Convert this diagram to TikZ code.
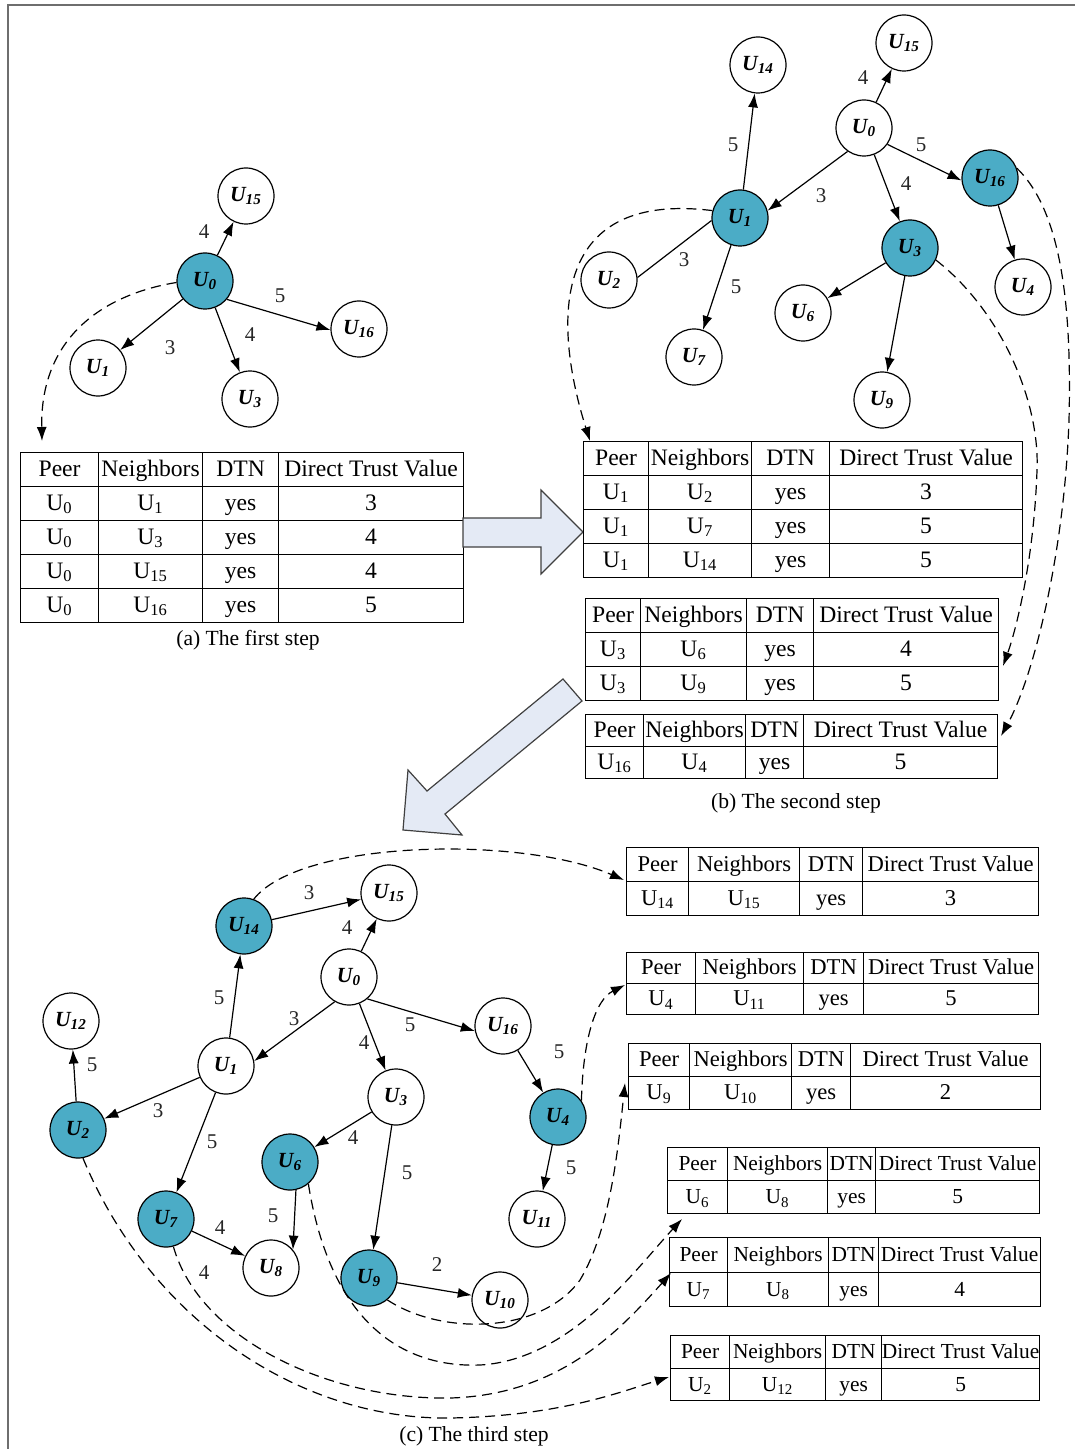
\documentclass[tikz,border=0pt]{standalone}
\usepackage{fontspec}
\setmainfont{Liberation Serif}
\usetikzlibrary{arrows.meta,matrix}
\definecolor{nodeblue}{HTML}{4BACC6}
\definecolor{arrowfill}{HTML}{E4EAF5}
\definecolor{framegray}{HTML}{6E6E6E}
\tikzset{
  cw/.style n args={4}{column 1/.style={nodes={minimum width=#1}},column 2/.style={nodes={minimum width=#2}},column 3/.style={nodes={minimum width=#3}},column 4/.style={nodes={minimum width=#4}}},
  rh/.style={nodes={minimum height=#1}},
  tfont/.style={nodes={font=\fontsize{#1}{12}\selectfont}},
}
\begin{document}
\begin{tikzpicture}[x=0.5pt,y=-0.5pt,
  pn/.style={circle,draw,line width=0.6pt,minimum size=28pt,inner sep=0pt,font=\fontsize{10.8}{12}\selectfont\bfseries\itshape},
  pb/.style={pn,fill=nodeblue},
  ed/.style={-{Latex[length=7pt,width=5pt]},line width=0.6pt},
  pl/.style={line width=0.6pt},
  ln/.style={font=\fontsize{10.5}{12}\selectfont,text=black!85,inner sep=0pt},
  dsh/.style={-{Latex[length=7pt,width=5pt]},line width=0.6pt,dash pattern=on 5pt off 3pt},
  capt/.style={font=\fontsize{10.8}{12}\selectfont,inner sep=0pt},
  tbl/.style={matrix of nodes,anchor=north west,inner sep=0pt,outer sep=0pt,column sep=-0.6pt,row sep=-0.6pt,
    nodes={draw,line width=0.6pt,inner sep=0pt,outer sep=0pt,anchor=center,text height=9.3pt,text depth=2.6pt,font=\fontsize{11.8}{12}\selectfont}},
  barrow/.style={fill=arrowfill,draw=black!75,line width=0.6pt,line join=miter},
]
\useasboundingbox (0,0) rectangle (1075,1449);
% frame
\draw[framegray,line width=1pt] (8,1449) -- (8,5) -- (1075,5);

% ================= (a) =================
\node[pn] (u15a) at (246,196) {U\textsubscript{15}};
\node[pb] (u0a)  at (205,281) {U\textsubscript{0}};
\node[pn] (u16a) at (359,329) {U\textsubscript{16}};
\node[pn] (u1a)  at (98,368)  {U\textsubscript{1}};
\node[pn] (u3a)  at (250,399) {U\textsubscript{3}};
\draw[ed] (u0a) -- (u15a);
\draw[ed] (u0a.-40) -- (u16a.182);
\draw[ed] (u0a) -- (u3a);
\draw[ed] (u0a) -- (u1a);
\node[ln] (la1) at (204,232) {4};
\node[ln] (la2) at (280,296) {5};
\node[ln] (la3) at (250,335) {4};
\node[ln] (la4) at (170,348) {3};

\matrix (ta) at (20,452) [tbl,cw={39pt}{52pt}{38pt}{92.5pt},rh=17pt] {
Peer & Neighbors & DTN & Direct Trust Value \\
U\textsubscript{0} & U\textsubscript{1} & yes & 3 \\
U\textsubscript{0} & U\textsubscript{3} & yes & 4 \\
U\textsubscript{0} & U\textsubscript{15} & yes & 4 \\
U\textsubscript{0} & U\textsubscript{16} & yes & 5 \\
};
\node[capt] (capa) at (248,640) {(a) The first step};
\coordinate (da) at (42,441);
\draw[dsh] (u0a.183) .. controls (100,295) and (40,340) .. (da);

% big right arrow
\draw[barrow] (463,518) -- (541,518) -- (541,490) -- (583,532) -- (541,574) -- (541,547) -- (463,547) -- cycle;

% ================= (b) =================
\node[pn] (u14b) at (758,65)  {U\textsubscript{14}};
\node[pn] (u15b) at (904,43)  {U\textsubscript{15}};
\node[pn] (u0b)  at (864,128) {U\textsubscript{0}};
\node[pb] (u16b) at (990,178) {U\textsubscript{16}};
\node[pb] (u1b)  at (740,218) {U\textsubscript{1}};
\node[pb] (u3b)  at (910,248) {U\textsubscript{3}};
\node[pn] (u2b)  at (609,280) {U\textsubscript{2}};
\node[pn] (u4b)  at (1023,287) {U\textsubscript{4}};
\node[pn] (u6b)  at (803,313) {U\textsubscript{6}};
\node[pn] (u7b)  at (694,357) {U\textsubscript{7}};
\node[pn] (u9b)  at (882,400) {U\textsubscript{9}};
\draw[ed] (u1b) -- (u14b);
\draw[ed] (u0b) -- (u15b);
\draw[ed] (u0b.-35) -- (u16b.185);
\draw[ed] (u0b.-125) -- (u1b.15);
\draw[ed] (u0b) -- (u3b);
\draw[pl] (u2b.5) -- (u1b.185);
\draw[ed] (u1b) -- (u7b);
\draw[ed] (u3b) -- (u6b);
\draw[ed] (u3b) -- (u9b);
\draw[ed] (u16b) -- (u4b);
\node[ln] (lb1) at (733,145) {5};
\node[ln] (lb2) at (863,78)  {4};
\node[ln] (lb3) at (921,145) {5};
\node[ln] (lb4) at (821,196) {3};
\node[ln] (lb5) at (906,184) {4};
\node[ln] (lb6) at (684,260) {3};
\node[ln] (lb7) at (736,287) {5};

\matrix (tb1) at (583,441) [tbl,cw={32.5pt}{51.5pt}{39pt}{96.5pt},rh=17pt] {
Peer & Neighbors & DTN & Direct Trust Value \\
U\textsubscript{1} & U\textsubscript{2} & yes & 3 \\
U\textsubscript{1} & U\textsubscript{7} & yes & 5 \\
U\textsubscript{1} & U\textsubscript{14} & yes & 5 \\
};
\matrix (tb2) at (585,598) [tbl,cw={27.5pt}{53pt}{33.5pt}{92.5pt},rh=17pt] {
Peer & Neighbors & DTN & Direct Trust Value \\
U\textsubscript{3} & U\textsubscript{6} & yes & 4 \\
U\textsubscript{3} & U\textsubscript{9} & yes & 5 \\
};
\matrix (tb3) at (585,714) [tbl,cw={29pt}{51pt}{29pt}{97pt},rh=16pt] {
Peer & Neighbors & DTN & Direct Trust Value \\
U\textsubscript{16} & U\textsubscript{4} & yes & 5 \\
};
\node[capt] (capb) at (796,803) {(b) The second step};

\coordinate (db1) at (590,441);
\coordinate (db2) at (1003,666);
\coordinate (db3) at (1001,736);
\draw[dsh] (u1b.165) .. controls (545,190) and (555,330) .. (db1);
\draw[dsh] (u3b.-25) .. controls (1000,310) and (1040,400) .. (1037,470) .. controls (1034,560) and (1016,630) .. (db2);
\draw[dsh] (u16b.20) .. controls (1060,210) and (1072,300) .. (1069,420) .. controls (1064,560) and (1032,680) .. (db3);

% diagonal arrow
\draw[barrow] (563,679) -- (582,701) -- (445,814) -- (462,835) -- (403,830) -- (408,770) -- (427,791) -- cycle;

% ================= (c) =================
\node[pb] (u14c) at (244,926)  {U\textsubscript{14}};
\node[pn] (u15c) at (389,893)  {U\textsubscript{15}};
\node[pn] (u0c)  at (349,977)  {U\textsubscript{0}};
\node[pn] (u12c) at (71,1021)  {U\textsubscript{12}};
\node[pn] (u1c)  at (226,1066) {U\textsubscript{1}};
\node[pn] (u16c) at (503,1026) {U\textsubscript{16}};
\node[pb] (u2c)  at (78,1130)  {U\textsubscript{2}};
\node[pn] (u3c)  at (396,1097) {U\textsubscript{3}};
\node[pb] (u4c)  at (558,1117) {U\textsubscript{4}};
\node[pb] (u6c)  at (290,1162) {U\textsubscript{6}};
\node[pb] (u7c)  at (166,1219) {U\textsubscript{7}};
\node[pn] (u11c) at (537,1219) {U\textsubscript{11}};
\node[pn] (u8c)  at (271,1268) {U\textsubscript{8}};
\node[pb] (u9c)  at (369,1278) {U\textsubscript{9}};
\node[pn] (u10c) at (500,1300) {U\textsubscript{10}};
\draw[ed] (u14c) -- (u15c);
\draw[ed] (u0c) -- (u15c);
\draw[ed] (u1c) -- (u14c);
\draw[ed] (u0c.-120) -- (u1c.10);
\draw[ed] (u0c.-50) -- (u16c.190);
\draw[ed] (u0c) -- (u3c);
\draw[ed] (u16c) -- (u4c);
\draw[ed] (u2c) -- (u12c);
\draw[ed] (u1c) -- (u2c);
\draw[ed] (u1c) -- (u7c);
\draw[ed] (u3c) -- (u6c);
\draw[ed] (u3c) -- (u9c);
\draw[ed] (u4c) -- (u11c);
\draw[ed] (u6c.-78) -- (u8c.40);
\draw[ed] (u7c) -- (u8c);
\draw[ed] (u9c) -- (u10c);
\node[ln] (lc1)  at (309,893)  {3};
\node[ln] (lc2)  at (347,928)  {4};
\node[ln] (lc3)  at (219,998)  {5};
\node[ln] (lc4)  at (294,1019) {3};
\node[ln] (lc5)  at (410,1025) {5};
\node[ln] (lc6)  at (364,1043) {4};
\node[ln] (lc7)  at (559,1052) {5};
\node[ln] (lc8)  at (92,1065)  {5};
\node[ln] (lc9)  at (158,1111) {3};
\node[ln] (lc10) at (212,1142) {5};
\node[ln] (lc11) at (353,1138) {4};
\node[ln] (lc12) at (407,1173) {5};
\node[ln] (lc13) at (571,1168) {5};
\node[ln] (lc14) at (273,1216) {5};
\node[ln] (lc15) at (220,1228) {4};
\node[ln] (lc16) at (437,1265) {2};
\node[ln] (lc17) at (204,1273) {4};

\matrix (tc1) at (626,847) [tbl,tfont=11.3,cw={31pt}{55.5pt}{31.5pt}{88pt},rh=17pt] {
Peer & Neighbors & DTN & Direct Trust Value \\
U\textsubscript{14} & U\textsubscript{15} & yes & 3 \\
};
\matrix (tc2) at (626,952) [tbl,tfont=11.3,cw={34.5pt}{54pt}{30pt}{87.5pt},rh=15.5pt] {
Peer & Neighbors & DTN & Direct Trust Value \\
U\textsubscript{4} & U\textsubscript{11} & yes & 5 \\
};
\matrix (tc3) at (628,1043) [tbl,tfont=11.3,cw={30.5pt}{51pt}{29.5pt}{95pt},rh=16.5pt] {
Peer & Neighbors & DTN & Direct Trust Value \\
U\textsubscript{9} & U\textsubscript{10} & yes & 2 \\
};
\matrix (tc4) at (667,1147) [tbl,tfont=10.7,cw={30pt}{50pt}{24pt}{82pt},rh=16.5pt] {
Peer & Neighbors & DTN & Direct Trust Value \\
U\textsubscript{6} & U\textsubscript{8} & yes & 5 \\
};
\matrix (tc5) at (669,1237) [tbl,tfont=10.7,cw={29pt}{50.5pt}{25pt}{81pt},rh=17.25pt] {
Peer & Neighbors & DTN & Direct Trust Value \\
U\textsubscript{7} & U\textsubscript{8} & yes & 4 \\
};
\matrix (tc6) at (670,1335) [tbl,tfont=10.7,cw={29.5pt}{48pt}{28pt}{79pt},rh=16.25pt] {
Peer & Neighbors & DTN & Direct Trust Value \\
U\textsubscript{2} & U\textsubscript{12} & yes & 5 \\
};
\node[capt] (capc) at (474,1436) {(c) The third step};

\coordinate (dc1) at (624,880);
\coordinate (dc2) at (625,985);
\coordinate (dc3) at (625,1083);
\coordinate (dc4) at (682,1219);
\coordinate (dc5) at (671,1273);
\coordinate (dc6) at (669,1377);
\draw[dsh] (u14c.70) .. controls (300,840) and (520,835) .. (dc1);
\draw[dsh] (u4c.35) .. controls (583,1040) and (595,1000) .. (dc2);
\draw[dsh] (u9c.-50) .. controls (440,1335) and (540,1335) .. (580,1280) .. controls (610,1230) and (618,1150) .. (dc3);
\draw[dsh] (u6c.-50) .. controls (330,1320) and (400,1368) .. (480,1365) .. controls (570,1360) and (635,1270) .. (dc4);
\draw[dsh] (u7c.-75) .. controls (200,1340) and (330,1400) .. (450,1398) .. controls (560,1395) and (620,1330) .. (dc5);
\draw[dsh] (u2c.-80) .. controls (150,1320) and (300,1420) .. (450,1418) .. controls (560,1416) and (620,1392) .. (dc6);
\end{tikzpicture}
\end{document}
